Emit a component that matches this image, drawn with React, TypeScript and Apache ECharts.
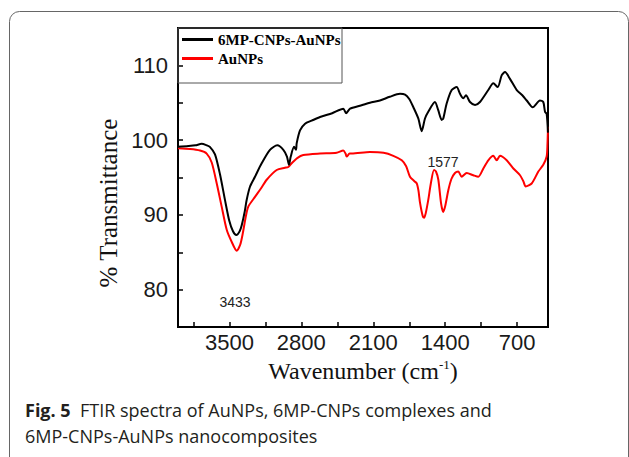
import React, { useEffect, useRef } from "react";
import * as echarts from "echarts";

// ---- data ----
const seriesNames = ["6MP-CNPs-AuNPs", "AuNPs"];

const wnBlack = [4000, 3900, 3830, 3770, 3720, 3690, 3640, 3591, 3543, 3501, 3465, 3432, 3400, 3380, 3350, 3332, 3299, 3251, 3186, 3105, 3034, 2975, 2940, 2920, 2903, 2871, 2852, 2845, 2813, 2764, 2700, 2618, 2500, 2392, 2365, 2326, 2230, 2132, 2035, 1940, 1840, 1791, 1750, 1710, 1662, 1629, 1597, 1565, 1500, 1468, 1434, 1419, 1386, 1337, 1288, 1256, 1224, 1198, 1159, 1110, 1062, 981, 932, 889, 850, 818, 770, 704, 650, 607, 549, 478, 446, 429, 413, 400];
const tBlack = [99.1, 99.2, 99.3, 99.5, 99.3, 99.1, 98.1, 95.4, 92.0, 89.2, 87.8, 87.3, 87.8, 88.6, 90.5, 92.0, 93.8, 95.1, 96.9, 98.7, 99.3, 98.7, 97.8, 96.7, 97.8, 99.1, 98.7, 99.6, 101.3, 102.2, 102.6, 103.1, 103.6, 104.2, 103.6, 104.2, 104.6, 105.0, 105.3, 105.8, 106.2, 106.1, 105.5, 104.4, 102.9, 101.2, 102.9, 103.8, 105.1, 104.0, 102.7, 102.9, 104.9, 106.7, 107.1, 106.2, 105.6, 106.0, 105.1, 104.7, 105.1, 106.7, 107.6, 107.1, 108.7, 109.1, 108.2, 106.7, 106.0, 105.3, 104.4, 105.3, 105.1, 103.8, 103.5, 101.0];

const wnRed = [4000, 3883, 3786, 3721, 3672, 3623, 3575, 3526, 3478, 3429, 3395, 3370, 3340, 3316, 3251, 3190, 3137, 3040, 2960, 2927, 2894, 2840, 2781, 2618, 2456, 2392, 2370, 2359, 2330, 2310, 2132, 2000, 1905, 1823, 1780, 1743, 1700, 1677, 1660, 1645, 1620, 1606, 1590, 1565, 1540, 1509, 1490, 1467, 1440, 1420, 1400, 1370, 1340, 1305, 1273, 1240, 1191, 1127, 1078, 1029, 981, 932, 899, 867, 802, 737, 672, 640, 617, 559, 494, 446, 413, 405, 400];
const tRed = [98.9, 98.8, 98.6, 98.2, 97.0, 94.2, 91.1, 88.0, 86.4, 85.2, 86.0, 87.5, 89.8, 91.1, 92.4, 93.6, 94.7, 96.0, 96.3, 96.4, 96.9, 97.6, 98.0, 98.2, 98.3, 98.6, 98.2, 97.8, 98.2, 98.2, 98.4, 98.3, 97.9, 97.3, 96.5, 95.1, 94.5, 94.2, 93.2, 91.6, 89.9, 89.6, 90.2, 92.0, 94.2, 96.0, 95.8, 94.7, 91.5, 90.4, 91.2, 93.3, 94.8, 95.6, 95.8, 95.1, 95.6, 95.3, 95.1, 96.2, 97.3, 97.9, 97.3, 97.9, 97.3, 96.2, 95.3, 94.5, 93.8, 94.2, 95.8, 96.7, 97.8, 99.5, 101.8];

const xTickValues = [700, 1050, 1400, 1750, 2100, 2450, 2800, 3150, 3500, 3850];
const xLabelValues = [700, 1400, 2100, 2800, 3500];
const yLabelValues = [80, 90, 100, 110];

const annText = ["3433", "1577"];
const annWn = [3445, 1422];
const annT = [78.3, 97.1];

const yTitle = "% Transmittance";
const captionBold = "Fig. 5";
const captionLine1 = "FTIR spectra of AuNPs, 6MP-CNPs complexes and";
const captionLine2 = "6MP-CNPs-AuNPs nanocomposites";

export default function App() {
  const ref = useRef<HTMLDivElement>(null);

  useEffect(() => {
    if (!ref.current) return;
    const chart = echarts.init(ref.current, null, { renderer: "svg" });
    const serif = "'Liberation Serif', 'Times New Roman', serif";
    const sans = "'Liberation Sans', Arial, sans-serif";

    chart.setOption({
      animation: false,
      backgroundColor: "#ffffff",
      grid: {
        left: 178,
        top: 28,
        width: 370,
        height: 299,
        show: true,
        borderColor: "#000",
        borderWidth: 2,
        backgroundColor: "transparent",
        containLabel: false,
      },
      legend: {
        data: seriesNames,
        orient: "vertical",
        left: 182,
        top: 32,
        padding: 0,
        itemGap: 4,
        itemWidth: 31,
        itemHeight: 3,
        icon: "rect",
        textStyle: {
          fontFamily: serif,
          fontWeight: "bold",
          fontSize: 15,
          color: "#000",
          lineHeight: 14,
        },
      },
      xAxis: {
        type: "value",
        min: 400,
        max: 4000,
        inverse: true,
        axisLine: { show: false },
        splitLine: { show: false },
        axisTick: {
          show: true,
          inside: true,
          length: 5,
          customValues: xTickValues,
          lineStyle: { color: "#000", width: 1.5 },
        },
        axisLabel: {
          customValues: xLabelValues,
          formatter: (v: number) => String(v),
          fontFamily: sans,
          fontSize: 22,
          color: "#1a1a1a",
          margin: 4,
        },
        name: "{a|Wavenumber (cm}{s|-1}{a|)}",
        nameLocation: "middle",
        nameGap: 29,
        nameTextStyle: {
          rich: {
            a: { fontFamily: serif, fontSize: 24, color: "#111", lineHeight: 26 },
            s: { fontFamily: serif, fontSize: 13, color: "#111", verticalAlign: "top", lineHeight: 26 },
          },
        },
      },
      yAxis: {
        type: "value",
        min: 75,
        max: 115,
        interval: 5,
        axisLine: { show: false },
        splitLine: { show: false },
        axisTick: {
          show: true,
          inside: true,
          length: 5,
          lineStyle: { color: "#000", width: 1.5 },
        },
        axisLabel: {
          customValues: yLabelValues,
          formatter: (v: number) => String(v),
          fontFamily: sans,
          fontSize: 22,
          color: "#1a1a1a",
          margin: 10,
        },
      },
      series: [
        {
          name: seriesNames[0],
          type: "line",
          data: wnBlack.map((w, i) => [w, tBlack[i]]),
          showSymbol: false,
          symbol: "none",
          smooth: 0.25,
          lineStyle: { color: "#000", width: 2 },
          itemStyle: { color: "#000" },
          z: 3,
        },
        {
          name: seriesNames[1],
          type: "line",
          data: wnRed.map((w, i) => [w, tRed[i]]),
          showSymbol: false,
          symbol: "none",
          smooth: 0.25,
          lineStyle: { color: "#ff0000", width: 2 },
          itemStyle: { color: "#ff0000" },
          z: 2,
          markPoint: {
            symbol: "circle",
            symbolSize: 1,
            silent: true,
            itemStyle: { color: "rgba(0,0,0,0)" },
            label: {
              show: true,
              position: "inside",
              formatter: (p: any) => p.name,
              fontFamily: sans,
              fontSize: 14,
              color: "#222",
            },
            data: annText.map((t, i) => ({ name: t, coord: [annWn[i], annT[i]] })),
          },
        },
      ],
      graphic: [
        {
          type: "rect",
          silent: true,
          shape: { x: 9.5, y: 11.5, width: 619, height: 470, r: 10 },
          style: { fill: "none", stroke: "#666", lineWidth: 1 },
          z: 0,
        },
        {
          type: "rect",
          silent: true,
          shape: { x: 178, y: 28, width: 164, height: 55 },
          style: { fill: "none", stroke: "#555", lineWidth: 1 },
          z: 10,
        },
        {
          type: "text",
          silent: true,
          x: 108,
          y: 203,
          rotation: Math.PI / 2,
          style: {
            text: yTitle,
            fontFamily: serif,
            fontSize: 25,
            fill: "#111",
            align: "center",
            verticalAlign: "middle",
          },
        },
        {
          type: "text",
          silent: true,
          left: 25,
          top: 397,
          style: {
            text: "{b|" + captionBold + "}  " + captionLine1 + "\n" + captionLine2,
            fontFamily: "'Open Sans', sans-serif",
            fontSize: 18,
            lineHeight: 26,
            fill: "#231f20",
            rich: {
              b: {
                fontFamily: "'Open Sans', sans-serif",
                fontWeight: "bold",
                fontSize: 18,
                lineHeight: 26,
                fill: "#231f20",
              },
            },
          },
        },
      ],
    });

    return () => chart.dispose();
  }, []);

  return (
    <div
      ref={ref}
      style={{ position: "absolute", left: 0, top: 0, width: 629, height: 457 }}
    />
  );
}
